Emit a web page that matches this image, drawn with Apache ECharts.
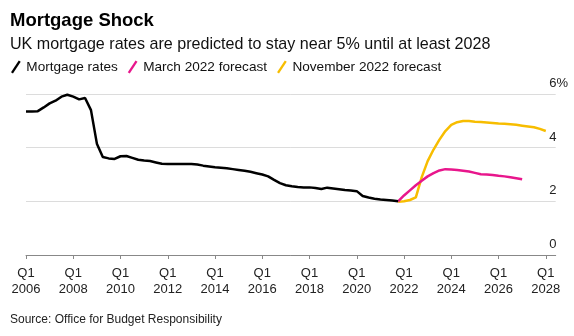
<!DOCTYPE html>
<html>
<head>
<meta charset="utf-8">
<script src="https://cdn.jsdelivr.net/npm/echarts@6/dist/echarts.min.js"></script>
<style>html,body{margin:0;padding:0;background:#fff}#c{width:574px;height:336px}</style>
</head>
<body>
<div id="c"></div>
<script>
// Quarterly data (year fraction)
var mortgageStart = 2006.0;
var mortgageRates = [
  5.35, 5.35, 5.36, 5.5,
  5.65, 5.75, 5.9, 5.97,
  5.9, 5.8, 5.85, 5.4,
  4.15, 3.65, 3.6, 3.58,
  3.68, 3.69, 3.62, 3.55,
  3.52, 3.5, 3.45, 3.4,
  3.39, 3.39, 3.39, 3.39,
  3.39, 3.37, 3.33, 3.3,
  3.27, 3.25, 3.23, 3.2,
  3.17, 3.14, 3.1, 3.05,
  3.0, 2.93, 2.8, 2.68,
  2.6, 2.56, 2.53, 2.52,
  2.52, 2.5, 2.46, 2.51,
  2.48, 2.45, 2.42, 2.4,
  2.38, 2.2, 2.14, 2.1,
  2.07, 2.05, 2.03, 2.0
];
var forecastStart = 2021.75;
var march2022Forecast = [
  2.0, 2.22, 2.41, 2.6, 2.77, 2.93, 3.05, 3.15, 3.2,
  3.19, 3.17, 3.14, 3.11, 3.06, 3.01, 3.0, 2.98,
  2.95, 2.93, 2.9, 2.86, 2.82
];
var november2022Forecast = [
  1.98, 2.0, 2.05, 2.15, 2.9, 3.5, 3.93, 4.3, 4.62,
  4.85, 4.95, 4.99, 4.99, 4.97, 4.96, 4.94, 4.92,
  4.9, 4.89, 4.87, 4.85, 4.82, 4.79, 4.76, 4.7, 4.62
];
var xTickYears = [2006, 2008, 2010, 2012, 2014, 2016, 2018, 2020, 2022, 2024, 2026, 2028];
var yTicks = [0, 2, 4, 6];
var seriesNames = ['Mortgage rates', 'March 2022 forecast', 'November 2022 forecast'];

function toPairs(start, arr) {
  return arr.map(function (v, i) { return [start + i * 0.25, v]; });
}

var FONT = 'Liberation Sans, Arial, Helvetica, sans-serif';
var slash = 'path://M0,12 L8,0 L10,1.4 L2,13.4 Z';

var chart = echarts.init(document.getElementById('c'), null, {renderer: 'canvas'});
chart.setOption({
  animation: false,
  backgroundColor: '#ffffff',
  textStyle: {fontFamily: FONT},
  title: [
    {text: 'Mortgage Shock', left: 5, top: 6,
     textStyle: {fontFamily: FONT, fontSize: 18.5, fontWeight: 'bold', color: '#000'}},
    {text: 'UK mortgage rates are predicted to stay near 5% until at least 2028', left: 5, top: 32,
     textStyle: {fontFamily: FONT, fontSize: 16.1, fontWeight: 'normal', color: '#111'}},
    {text: 'Source: Office for Budget Responsibility', left: 5, top: 309,
     textStyle: {fontFamily: FONT, fontSize: 12, fontWeight: 'normal', color: '#222'}}
  ],
  legend: {
    left: 6, top: 55,
    itemWidth: 11, itemHeight: 13, itemGap: 10,
    icon: slash,
    data: seriesNames,
    textStyle: {fontFamily: FONT, fontSize: 13.6, color: '#111'}
  },
  grid: {left: 26, right: 18.3, top: 94, bottom: 81, containLabel: false},
  xAxis: {
    type: 'value',
    min: 2006, max: 2028.42,
    interval: 2,
    axisLine: {show: true, lineStyle: {color: '#888', width: 1}},
    axisTick: {show: true, length: 4, lineStyle: {color: '#888'}, customValues: xTickYears},
    splitLine: {show: false},
    axisLabel: {
      customValues: xTickYears,
      margin: 10,
      fontFamily: FONT, fontSize: 13, lineHeight: 16, color: '#222',
      formatter: function (v) { return 'Q1\n' + Math.round(v); }
    }
  },
  yAxis: {
    type: 'value',
    position: 'right',
    min: 0, max: 6, interval: 2,
    axisLine: {show: false},
    axisTick: {show: false},
    splitLine: {show: true, lineStyle: {color: '#dcdcdc', width: 1}},
    axisLabel: {
      inside: true,
      margin: 6.5,
      align: 'left',
      verticalAlign: 'bottom',
      fontFamily: FONT, fontSize: 13, color: '#222',
      padding: [0, 0, 4, 0],
      formatter: function (v) { return v === 6 ? '6%' : String(v); }
    }
  },
  series: [
    {name: seriesNames[0], type: 'line', data: toPairs(mortgageStart, mortgageRates),
     showSymbol: false, symbol: 'none', color: '#000000', lineStyle: {width: 2.5, color: '#000'}, z: 3},
    {name: seriesNames[1], type: 'line', data: toPairs(forecastStart, march2022Forecast),
     showSymbol: false, symbol: 'none', color: '#e8168c', lineStyle: {width: 2.5, color: '#e8168c'}, z: 2},
    {name: seriesNames[2], type: 'line', data: toPairs(forecastStart, november2022Forecast),
     showSymbol: false, symbol: 'none', color: '#f7bd00', lineStyle: {width: 2.5, color: '#f7bd00'}, z: 1}
  ]
});
</script>
</body>
</html>
